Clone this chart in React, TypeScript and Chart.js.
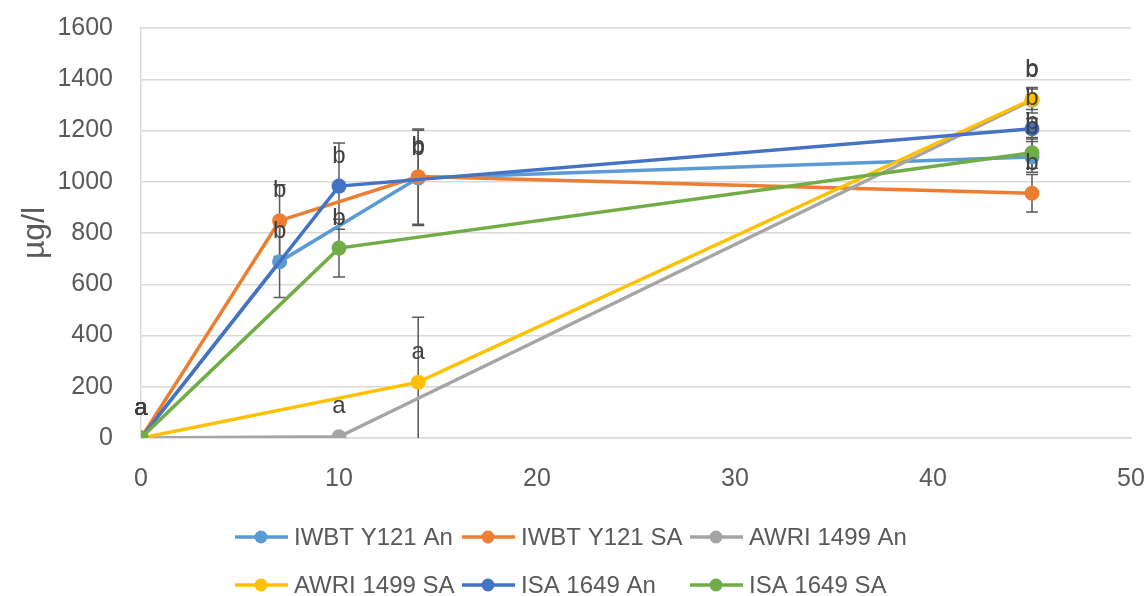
import React, { useEffect, useRef } from "react";
import { Chart, registerables } from "chart.js";

Chart.register(...registerables);

// ---- data ----
const seriesNames = ["IWBT Y121 An", "IWBT Y121 SA", "AWRI 1499 An", "AWRI 1499 SA", "ISA 1649 An", "ISA 1649 SA"];
const seriesColors = ["#5B9BD5", "#ED7D31", "#A5A5A5", "#FFC000", "#4472C4", "#70AD47"];

const iwbtAnX = [0, 7, 14, 45];
const iwbtAnY = [0, 688, 1015, 1097];
const iwbtAnErr = [0, 140, 186, 60];
const iwbtAnLbl = ["a", "b", "b", "b"];

const iwbtSaX = [0, 7, 14, 45];
const iwbtSaY = [0, 848, 1020, 955];
const iwbtSaErr = [0, 140, 186, 73];
const iwbtSaLbl = ["a", "b", "b", "b"];

const awriAnX = [0, 10, 45];
const awriAnY = [0, 5, 1318];
const awriAnErr = [0, 0, 50];
const awriAnLbl = ["a", "a", "b"];

const awriSaX = [0, 14, 45];
const awriSaY = [0, 218, 1322];
const awriSaErr = [0, 253, 40];
const awriSaLbl = ["a", "a", "b"];

const isaAnX = [0, 10, 45];
const isaAnY = [0, 983, 1207];
const isaAnErr = [0, 168, 40];
const isaAnLbl = ["a", "b", "b"];

const isaSaX = [0, 10, 45];
const isaSaY = [0, 741, 1113];
const isaSaErr = [0, 113, 60];
const isaSaLbl = ["a", "b", "b"];

const xTicks = [0, 10, 20, 30, 40, 50];
const yTicks = [0, 200, 400, 600, 800, 1000, 1200, 1400, 1600];
const yTitle = "µg/l";

const allX = [iwbtAnX, iwbtSaX, awriAnX, awriSaX, isaAnX, isaSaX];
const allY = [iwbtAnY, iwbtSaY, awriAnY, awriSaY, isaAnY, isaSaY];
const allErr = [iwbtAnErr, iwbtSaErr, awriAnErr, awriSaErr, isaAnErr, isaSaErr];
const allLbl = [iwbtAnLbl, iwbtSaLbl, awriAnLbl, awriSaLbl, isaAnLbl, isaSaLbl];

const FONT = "'Liberation Sans', Arial, sans-serif";

function zeroPad(s: any) {
  s.paddingLeft = 0;
  s.paddingRight = 0;
  s.paddingTop = 0;
  s.paddingBottom = 0;
}

export default function App() {
  const ref = useRef<HTMLCanvasElement>(null);

  useEffect(() => {
    if (!ref.current) return;

    const errorBars = {
      id: "errorBars",
      beforeDatasetsDraw(chart: any) {
        const { ctx, chartArea, scales } = chart;
        ctx.save();
        ctx.beginPath();
        ctx.rect(chartArea.left, chartArea.top - 40, chartArea.right - chartArea.left, chartArea.bottom - chartArea.top + 40);
        ctx.clip();
        ctx.strokeStyle = "#595959";
        ctx.lineWidth = 1.5;
        allX.forEach((xs, s) => {
          xs.forEach((xv, i) => {
            const e = allErr[s][i];
            if (!e) return;
            const px = scales.x.getPixelForValue(xv);
            const top = scales.y.getPixelForValue(allY[s][i] + e);
            const bot = scales.y.getPixelForValue(allY[s][i] - e);
            ctx.beginPath();
            ctx.moveTo(px, top);
            ctx.lineTo(px, bot);
            ctx.moveTo(px - 6, top);
            ctx.lineTo(px + 6, top);
            ctx.moveTo(px - 6, bot);
            ctx.lineTo(px + 6, bot);
            ctx.stroke();
          });
        });
        ctx.restore();
      },
      afterDatasetsDraw(chart: any) {
        const { ctx, scales } = chart;
        ctx.save();
        ctx.fillStyle = "#404040";
        ctx.font = `24px ${FONT}`;
        ctx.textAlign = "center";
        ctx.textBaseline = "middle";
        allX.forEach((xs, s) => {
          xs.forEach((xv, i) => {
            const px = scales.x.getPixelForValue(xv);
            const py = scales.y.getPixelForValue(allY[s][i]);
            ctx.fillText(allLbl[s][i], px, py - 30);
          });
        });
        ctx.restore();
      },
      afterDraw(chart: any) {
        const { ctx, chartArea } = chart;
        ctx.save();
        ctx.fillStyle = "#595959";
        ctx.font = `32px ${FONT}`;
        ctx.textAlign = "center";
        ctx.textBaseline = "middle";
        ctx.translate(35, (chartArea.top + chartArea.bottom) / 2);
        ctx.rotate(-Math.PI / 2);
        ctx.fillText(yTitle, 0, 0);
        ctx.restore();

        ctx.save();
        const cols = [235, 462, 690];
        const rows = [537, 585];
        ctx.font = `24px ${FONT}`;
        ctx.textBaseline = "middle";
        ctx.textAlign = "left";
        seriesNames.forEach((name, i) => {
          const x0 = cols[i % 3];
          const y0 = rows[Math.floor(i / 3)];
          ctx.strokeStyle = seriesColors[i];
          ctx.lineWidth = 3.5;
          ctx.beginPath();
          ctx.moveTo(x0, y0);
          ctx.lineTo(x0 + 53, y0);
          ctx.stroke();
          ctx.fillStyle = seriesColors[i];
          ctx.beginPath();
          ctx.arc(x0 + 26, y0, 6.5, 0, Math.PI * 2);
          ctx.fill();
          ctx.fillStyle = "#595959";
          ctx.fillText(name, x0 + 59, y0 + 1);
        });
        ctx.restore();
      },
    };

    const chart = new Chart(ref.current, {
      type: "scatter",
      data: {
        datasets: seriesNames.map((name, s) => ({
          label: name,
          data: allX[s].map((x, i) => ({ x, y: allY[s][i] })),
          showLine: true,
          borderColor: seriesColors[s],
          backgroundColor: seriesColors[s],
          borderWidth: 3.5,
          pointRadius: 7.5,
          pointHoverRadius: 7.5,
          pointBorderWidth: 0,
          tension: 0,
          order: seriesNames.length - s,
        })),
      },
      options: {
        animation: false,
        responsive: false,
        maintainAspectRatio: false,
        layout: { autoPadding: false, padding: { left: 0, top: 28, right: 14, bottom: 0 } } as any,
        plugins: { legend: { display: false }, tooltip: { enabled: false } },
        scales: {
          x: {
            type: "linear",
            min: 0,
            max: 50,
            afterBuildTicks: (s: any) => {
              s.ticks = xTicks.map((v) => ({ value: v }));
            },
            afterFit: (s: any) => {
              s.height = 596 - 438;
              zeroPad(s);
            },
            grid: { display: false, drawTicks: false },
            border: { display: true, color: "#D9D9D9", width: 1.5 },
            ticks: {
              color: "#595959",
              font: { family: FONT, size: 25 },
              padding: 26,
              maxRotation: 0,
              callback: (v: any) => String(v),
            },
          },
          y: {
            type: "linear",
            min: 0,
            max: 1600,
            afterBuildTicks: (s: any) => {
              s.ticks = yTicks.map((v) => ({ value: v }));
            },
            afterFit: (s: any) => {
              s.width = 141;
              zeroPad(s);
            },
            grid: { color: "#D9D9D9", lineWidth: 1.5, drawTicks: false },
            border: { display: true, color: "#D9D9D9", width: 1.5 },
            ticks: {
              color: "#595959",
              font: { family: FONT, size: 25 },
              padding: 28,
              callback: (v: any) => String(v),
            },
          },
        },
      },
      plugins: [errorBars],
    } as any);

    return () => chart.destroy();
  }, []);

  return (
    <div style={{ position: "fixed", left: 0, top: 0, width: 1145, height: 596, background: "#fff" }}>
      <canvas ref={ref} width={1145} height={596} style={{ width: 1145, height: 596, display: "block" }} />
    </div>
  );
}
